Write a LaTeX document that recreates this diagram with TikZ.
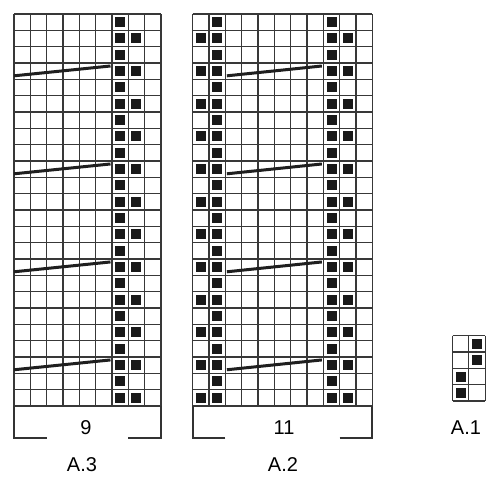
\documentclass[tikz,border=0pt]{standalone}
\usepackage{fontspec}
\setmainfont{Liberation Sans}
\begin{document}
\begin{tikzpicture}[x=1pt,y=-1pt,
  gridline/.style={draw=black!78, line width=1.25pt},
  blk/.style={fill=black!90},
  cable/.style={draw=black!88, line width=3pt},
  frame/.style={draw=black!80, line width=1.9pt},
  lbl/.style={font=\fontsize{20}{23}\selectfont, inner sep=0pt}]
\useasboundingbox[fill=white] (0,0) rectangle (500,480);
\def\c{16.33}
\newcommand\bsq[4]{\fill[blk] ({#1+(#3-0.5)*\c-5},{#2+(#4-0.5)*\c-5}) rectangle +(10,10);}
% ---------- A.3 ----------
\def\ax{14}\def\ay{14}
\foreach \r in {1,...,24} {\bsq{\ax}{\ay}{7}{\r}}
\foreach \r in {2,4,...,24} {\bsq{\ax}{\ay}{8}{\r}}
\foreach \i in {0,...,9} \draw[gridline] ({\ax+\i*\c},\ay) -- ({\ax+\i*\c},{\ay+24*\c});
\foreach \j in {0,...,24} \draw[gridline] (\ax,{\ay+\j*\c}) -- ({\ax+9*\c},{\ay+\j*\c});
\foreach \r in {4,10,16,22} \draw[cable] (\ax,{\ay+\r*\c-3.5}) -- ({\ax+6*\c-1.5},{\ay+(\r-1)*\c+3});
\draw[frame] ({\ax+2*\c},{\ay+24*\c+32}) -- (\ax,{\ay+24*\c+32}) -- (\ax,{\ay+24*\c});
\draw[frame] ({\ax+7*\c},{\ay+24*\c+32}) -- ({\ax+9*\c},{\ay+24*\c+32}) -- ({\ax+9*\c},{\ay+24*\c});
\node[lbl] (n9) at (86,428) {9};
\node[lbl] (l3) at (82,465) {A.3};
% ---------- A.2 ----------
\def\bx{192.7}
\foreach \r in {1,...,24} {\bsq{\bx}{\ay}{2}{\r}\bsq{\bx}{\ay}{9}{\r}}
\foreach \r in {2,4,...,24} {\bsq{\bx}{\ay}{1}{\r}\bsq{\bx}{\ay}{10}{\r}}
\foreach \i in {0,...,11} \draw[gridline] ({\bx+\i*\c},\ay) -- ({\bx+\i*\c},{\ay+24*\c});
\foreach \j in {0,...,24} \draw[gridline] (\bx,{\ay+\j*\c}) -- ({\bx+11*\c},{\ay+\j*\c});
\foreach \r in {4,10,16,22} \draw[cable] ({\bx+2*\c+1.5},{\ay+\r*\c-3.5}) -- ({\bx+8*\c-1.5},{\ay+(\r-1)*\c+3});
\draw[frame] ({\bx+2*\c},{\ay+24*\c+32}) -- (\bx,{\ay+24*\c+32}) -- (\bx,{\ay+24*\c});
\draw[frame] ({\bx+9*\c},{\ay+24*\c+32}) -- ({\bx+11*\c},{\ay+24*\c+32}) -- ({\bx+11*\c},{\ay+24*\c});
\node[lbl] (n11) at (284,428) {11};
\node[lbl] (l2) at (283,465) {A.2};
% ---------- A.1 ----------
\def\cx{452.5}\def\cy{335.7}
\bsq{\cx}{\cy}{2}{1}\bsq{\cx}{\cy}{2}{2}\bsq{\cx}{\cy}{1}{3}\bsq{\cx}{\cy}{1}{4}
\foreach \i in {0,...,2} \draw[gridline] ({\cx+\i*\c},\cy) -- ({\cx+\i*\c},{\cy+4*\c});
\foreach \j in {0,...,4} \draw[gridline] (\cx,{\cy+\j*\c}) -- ({\cx+2*\c},{\cy+\j*\c});
\node[lbl] (l1) at (466,428) {A.1};
\end{tikzpicture}
\end{document}
